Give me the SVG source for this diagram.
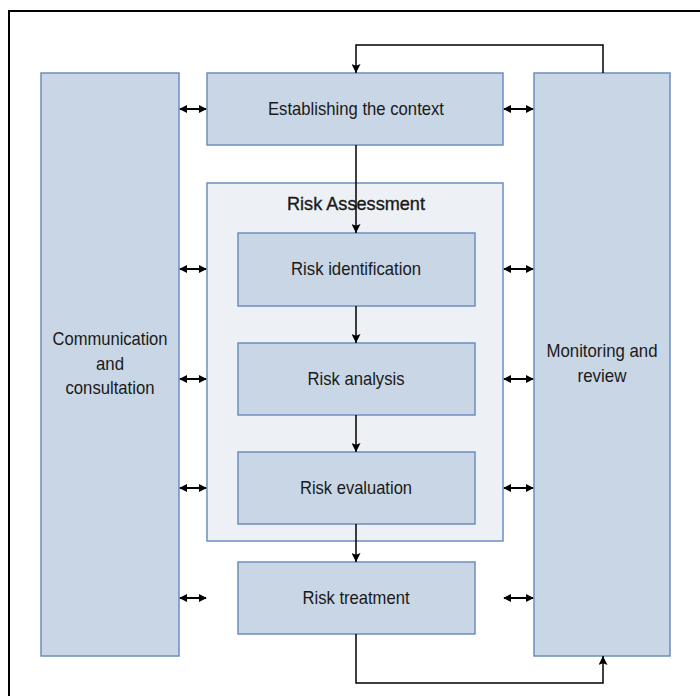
<svg xmlns="http://www.w3.org/2000/svg" width="700" height="696" viewBox="0 0 700 696">
<style>
.box{fill:#c9d6e5;stroke:#6c8ebf;stroke-width:1.5}
.cont{fill:#edf0f5;stroke:#6c8ebf;stroke-width:1.5}
.t{font-family:"Liberation Sans",Arial,sans-serif;font-size:18.5px;fill:#1a1a1a;text-anchor:middle}
.ln{fill:none;stroke:#000;stroke-width:1.5}
.da{fill:none;stroke:#000;stroke-width:2;marker-start:url(#as);marker-end:url(#ae)}
</style>
<defs>
<marker id="ae" viewBox="0 0 10 10" refX="9" refY="5" markerWidth="8" markerHeight="9" orient="auto" markerUnits="userSpaceOnUse"><path d="M0,0 L10,5 L0,10 Z" fill="#000"/></marker>
<marker id="as" viewBox="0 0 10 10" refX="1" refY="5" markerWidth="8" markerHeight="9" orient="auto" markerUnits="userSpaceOnUse"><path d="M10,0 L0,5 L10,10 Z" fill="#000"/></marker>
<marker id="ah" viewBox="0 0 10 10" refX="10" refY="5" markerWidth="9" markerHeight="9" orient="auto" markerUnits="userSpaceOnUse"><path d="M0,0 L10,5 L0,10 L2,5 Z" fill="#000"/></marker>
</defs>
<rect x="9" y="11" width="700" height="700" fill="#fff" stroke="#000" stroke-width="2"/>
<g id="communication"><rect class="box" x="41" y="73" width="138" height="583"/>
<text class="t" x="110" y="345" textLength="115" lengthAdjust="spacingAndGlyphs">Communication</text><text class="t" x="110" y="370" textLength="28" lengthAdjust="spacingAndGlyphs">and</text><text class="t" x="110" y="394" textLength="89" lengthAdjust="spacingAndGlyphs">consultation</text></g>
<g id="monitoring"><rect class="box" x="534" y="73" width="136" height="583"/>
<text class="t" x="602" y="357" textLength="111" lengthAdjust="spacingAndGlyphs">Monitoring and</text><text class="t" x="602" y="382" textLength="49" lengthAdjust="spacingAndGlyphs">review</text></g>
<g id="context"><rect class="box" x="207" y="73" width="296" height="72"/>
<text class="t" x="356" y="115" textLength="176" lengthAdjust="spacingAndGlyphs">Establishing the context</text></g>
<g id="assessment"><rect class="cont" x="207" y="183" width="296" height="358"/>
<text class="t" x="356" y="210" textLength="138" lengthAdjust="spacingAndGlyphs" style="stroke:#1a1a1a;stroke-width:0.35">Risk Assessment</text></g>
<g id="identification"><rect class="box" x="238" y="233" width="237" height="73"/>
<text class="t" x="356" y="275" textLength="130" lengthAdjust="spacingAndGlyphs">Risk identification</text></g>
<g id="analysis"><rect class="box" x="238" y="343" width="237" height="72"/>
<text class="t" x="356" y="385" textLength="97" lengthAdjust="spacingAndGlyphs">Risk analysis</text></g>
<g id="evaluation"><rect class="box" x="238" y="452" width="237" height="72"/>
<text class="t" x="356" y="494" textLength="112" lengthAdjust="spacingAndGlyphs">Risk evaluation</text></g>
<g id="treatment"><rect class="box" x="238" y="562" width="237" height="72"/>
<text class="t" x="356" y="604" textLength="107" lengthAdjust="spacingAndGlyphs">Risk treatment</text></g>
<g id="connectors">
<path class="ln" d="M603,73 V45 H356 V73" marker-end="url(#ah)"/>
<path class="ln" d="M356,145 V233" marker-end="url(#ah)"/>
<path class="ln" d="M356,306 V343" marker-end="url(#ah)"/>
<path class="ln" d="M356,415 V452" marker-end="url(#ah)"/>
<path class="ln" d="M356,524 V562" marker-end="url(#ah)"/>
<path class="ln" d="M356,634 V683 H603 V656" marker-end="url(#ah)"/>
<path class="da" d="M180,109 H206"/><path class="da" d="M504,109 H533"/>
<path class="da" d="M180,269 H206"/><path class="da" d="M504,269 H533"/>
<path class="da" d="M180,379 H206"/><path class="da" d="M504,379 H533"/>
<path class="da" d="M180,488 H206"/><path class="da" d="M504,488 H533"/>
<path class="da" d="M180,598 H206"/><path class="da" d="M504,598 H533"/>
</g>
</svg>
